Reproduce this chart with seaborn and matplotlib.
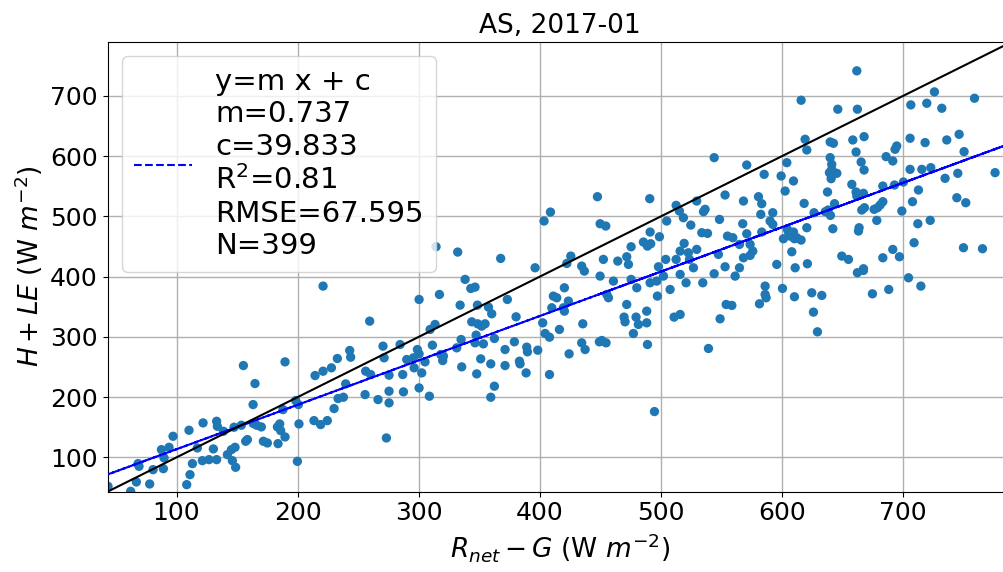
import matplotlib
matplotlib.use("Agg")
import matplotlib.pyplot as plt
import numpy as np
import seaborn as sns

# Surface energy balance closure: available energy vs. turbulent fluxes
title = "AS, 2017-01"

avail_energy = [
    447.6, 490.8, 408.8, 403.5, 449.8, 454.5, 512.6, 515.3, 518.6, 504.8, 524.7, 529.6,
    491.1, 498.8, 485.6, 488.9, 491.6, 475.4, 519.2, 515.9, 522.7, 529.6, 512.6, 504.0,
    523.6, 332.2, 367.7, 425.6, 452.5, 464.4, 471.8, 422.3, 434.6, 396.1, 473.2, 498.0,
    526.9, 314.3,
    436.8, 449.8, 460.8, 475.4, 480.1, 502.1, 491.1, 496.6, 515.9, 520.8, 507.6, 497.1,
    455.3, 456.7, 471.8, 488.3, 479.5, 469.6, 470.4, 481.4, 488.3, 477.3, 488.9, 510.9,
    515.9, 451.2, 454.7, 449.2, 434.6, 437.4, 435.5, 424.2, 416.2, 420.3, 419.5, 411.2,
    414.0, 420.3, 423.6, 409.9, 402.4, 404.4, 408.0, 408.0, 398.3, 389.2, 389.8, 379.0,
    371.3, 383.2, 383.7, 388.7, 371.3, 359.5, 362.5, 359.5, 351.2, 347.9, 335.5, 319.8,
    320.4, 311.3, 305.2, 300.3, 296.2, 302.5, 300.3, 308.8, 287.4, 286.8, 290.1, 295.6,
    298.9, 284.6, 309.4, 313.5, 300.3, 317.1, 334.2, 338.3, 343.0, 346.5, 348.5, 357.6,
    360.3, 373.2, 380.4, 343.8, 348.7, 352.0, 354.8, 347.4, 346.5, 353.4, 362.5, 335.0,
    331.4, 318.2, 494.7,
    221.0, 259.5, 155.2, 189.6, 164.8, 163.2, 270.5, 271.4, 243.0, 243.8, 232.8, 227.9,
    221.0, 214.4, 256.2, 260.3, 275.5, 275.5, 275.5, 266.4, 255.7, 239.7, 237.8, 233.4,
    230.1, 224.5, 219.0, 213.5, 201.1, 200.6, 198.4, 199.8, 187.9, 185.2, 183.3, 186.0,
    189.6, 183.8, 273.3, 170.0, 166.2, 163.4, 158.5, 157.1, 171.7, 175.0, 153.5, 147.5,
    138.7, 133.1, 133.7, 121.9, 110.3, 97.1, 93.8, 87.5, 89.7, 89.1, 80.6, 68.2,
    69.0, 66.8, 62.1, 77.8, 43.4, 117.2, 113.1, 111.1, 108.4, 121.3, 126.8, 133.1,
    130.4, 142.0, 145.3, 148.3, 146.1, 148.8,
    534.6, 544.0, 561.3, 586.1, 586.1, 586.9, 581.4, 553.9, 558.6, 548.9, 539.3, 600.4,
    610.3, 624.6, 632.9, 626.0, 629.3, 662.3, 667.3, 674.7, 688.2, 704.5, 714.7,
    661.8, 615.8, 646.1, 662.3, 706.4, 719.6, 725.9, 732.0, 759.0, 544.0, 570.9, 604.0,
    619.1, 620.5, 639.8, 642.5, 658.5, 667.8, 661.2, 639.8, 641.1, 641.1, 639.2, 645.3,
    640.6, 665.4, 667.8, 686.0, 691.5, 693.4, 694.8, 705.8, 718.2, 736.1, 746.3, 750.4,
    705.8, 715.5, 722.9, 745.2, 734.7, 776.0, 700.3, 692.9, 683.3, 712.7, 744.4, 751.8,
    707.8, 699.0, 722.4, 712.2, 709.1, 749.9, 765.6, 691.5, 697.0, 683.3, 667.3, 657.7,
    661.2, 667.3, 661.8, 668.1, 665.9, 676.1, 678.9, 681.1, 683.3, 678.3, 663.7, 663.2,
    642.0, 637.6, 643.4, 638.1, 640.0, 635.8, 626.5, 618.3, 620.5, 602.6, 609.5, 599.3,
    604.5, 601.2, 605.4, 609.5, 606.7, 612.2, 615.8, 610.3, 608.1, 621.0, 610.9, 595.7,
    585.3, 580.6, 583.3, 592.4, 582.5, 590.2, 592.4, 583.3, 570.9, 568.2, 567.6, 553.0,
    548.4, 536.5, 535.2, 538.5, 533.8, 555.0, 559.4, 564.9, 573.7, 575.9, 573.7, 568.2,
    547.5, 553.0, 564.9, 649.4, 654.9, 789.0,
]

turb_flux = [
    532.7, 529.4, 507.2, 492.3, 487.8, 484.0, 518.3, 508.9, 497.8, 492.3, 485.6, 525.5,
    474.0, 466.2, 457.4, 450.7, 454.6, 449.6, 455.2, 442.4, 439.6, 445.2, 428.6, 428.6,
    428.6, 440.8, 430.2, 434.1, 428.6, 425.8, 433.0, 421.9, 417.5, 414.7, 420.3, 416.4,
    414.7, 449.6,
    409.2, 400.9, 392.6, 395.4, 381.5, 400.9, 389.8, 392.6, 403.7, 389.8, 378.7, 367.7,
    370.4, 364.9, 353.8, 342.7, 332.8, 332.8, 325.0, 320.6, 323.3, 305.6, 287.3, 332.8,
    337.2, 294.0, 290.1, 291.8, 290.1, 279.0, 321.7, 271.8, 312.3, 342.7, 348.3, 367.7,
    364.9, 381.5, 359.4, 348.3, 323.3, 305.6, 299.5, 237.5, 277.9, 282.9, 275.2, 291.8,
    279.0, 259.6, 255.2, 240.2, 252.4, 255.2, 218.1, 199.8, 263.5, 238.6, 250.2, 260.7,
    268.0, 286.2, 258.5, 271.8, 248.6, 240.2, 215.3, 201.5, 208.7, 237.5, 262.4, 265.2,
    279.0, 287.3, 312.3, 320.6, 362.1, 370.4, 352.7, 395.4, 380.4, 382.6, 352.7, 349.4,
    338.3, 362.1, 333.3, 325.0, 321.7, 317.8, 321.7, 302.9, 290.1, 288.4, 297.3, 295.6,
    281.8, 270.7, 176.0,
    384.3, 326.1, 252.4, 258.5, 222.5, 187.6, 284.6, 265.2, 277.4, 266.3, 264.1, 248.6,
    243.0, 235.8, 243.0, 237.5, 236.4, 209.8, 190.4, 195.9, 204.2, 222.0, 199.8, 197.6,
    181.0, 161.0, 154.4, 161.0, 155.5, 187.6, 194.3, 93.4, 179.3, 155.5, 150.5, 144.4,
    133.9, 122.8, 132.2, 150.5, 153.3, 156.1, 129.5, 126.7, 126.7, 123.9, 153.3, 150.0,
    143.3, 159.9, 151.6, 157.2, 145.0, 135.0, 116.7, 112.8, 99.0, 81.2, 79.6, 89.6,
    85.1, 59.1, 43.6, 55.8, 51.9, 115.6, 89.6, 71.3, 54.7, 94.5, 96.2, 96.2,
    114.0, 104.5, 112.8, 116.7, 94.5, 83.5,
    389.8, 404.8, 400.9, 384.3, 370.4, 364.9, 354.9, 353.8, 352.2, 330.0, 280.7, 380.4,
    366.6, 373.2, 368.8, 341.1, 308.4, 406.5, 410.3, 371.5, 378.7, 398.1, 384.3,
    741.6, 692.8, 677.9, 677.9, 685.1, 687.8, 706.7, 679.5, 696.1, 597.5, 585.3, 589.2,
    628.0, 610.3, 623.6, 621.4, 626.9, 632.4, 606.9, 597.5, 586.4, 578.1, 572.6, 571.5,
    562.6, 590.3, 577.0, 599.2, 592.0, 611.4, 616.9, 629.7, 622.5, 626.9, 636.3, 607.5,
    578.1, 578.1, 580.9, 571.5, 563.2, 572.6, 557.1, 552.1, 550.4, 543.8, 531.0, 522.7,
    524.4, 508.9, 493.4, 487.8, 456.3, 448.0, 446.3, 445.2, 433.0, 431.3, 413.1, 553.2,
    540.5, 538.3, 533.8, 514.4, 510.6, 511.7, 514.4, 518.9, 524.4, 493.4, 481.2, 475.7,
    479.5, 540.5, 521.1, 510.6, 501.7, 507.8, 506.1, 521.6, 481.2, 542.1, 558.8, 567.1,
    478.4, 462.9, 474.0, 474.0, 467.3, 464.6, 460.7, 462.9, 441.3, 421.4, 414.7, 420.3,
    569.8, 532.7, 521.1, 506.1, 503.4, 492.3, 486.7, 474.0, 471.2, 525.5, 487.8, 535.5,
    495.0, 511.7, 507.8, 471.8, 472.9, 467.3, 464.6, 453.5, 453.5, 442.4, 435.2, 431.3,
    436.9, 416.4, 414.7, 434.1, 428.6, 560.0,
]

# Linear fit statistics
slope = 0.737
intercept = 39.833
r2 = 0.81
rmse = 67.595
n_obs = 399

ticks = [100, 200, 300, 400, 500, 600, 700]
lims = (43.0, 790.0)

x = np.array(avail_energy)
y = np.array(turb_flux)

fig = plt.figure(figsize=(10.04, 5.72), dpi=100)
ax = fig.add_axes([0.1071, 0.1404, 0.9009, 0.7867])

sns.scatterplot(x=x, y=y, s=45, color="#1f77b4", edgecolor="none",
                linewidth=0, ax=ax, legend=False, zorder=2)

fit_label = (
    "y=m x + c\n"
    f"m={slope:.3f}\n"
    f"c={intercept:.3f}\n"
    f"R$^2$={r2:.2f}\n"
    f"RMSE={rmse:.3f}\n"
    f"N={n_obs}"
)
ax.plot(x, slope * x + intercept, "b--", lw=1.5, label=fit_label, zorder=3)
ax.plot(lims, lims, "k-", lw=1.5, zorder=3)

ax.set_xlim(lims)
ax.set_ylim(lims)
ax.set_xticks(ticks)
ax.set_yticks(ticks)
ax.tick_params(labelsize=18)
ax.grid(True, color="#b0b0b0", lw=1.0)
ax.set_axisbelow(True)

ax.set_title(title, fontsize=19)
ax.set_xlabel(r"$R_{net}-G$ (W $m^{-2}$)", fontsize=19)
ax.set_ylabel(r"$H+LE$ (W $m^{-2}$)", fontsize=19)

ax.legend(loc="upper left", fontsize=21)

fig.savefig("out.png", dpi=100)
